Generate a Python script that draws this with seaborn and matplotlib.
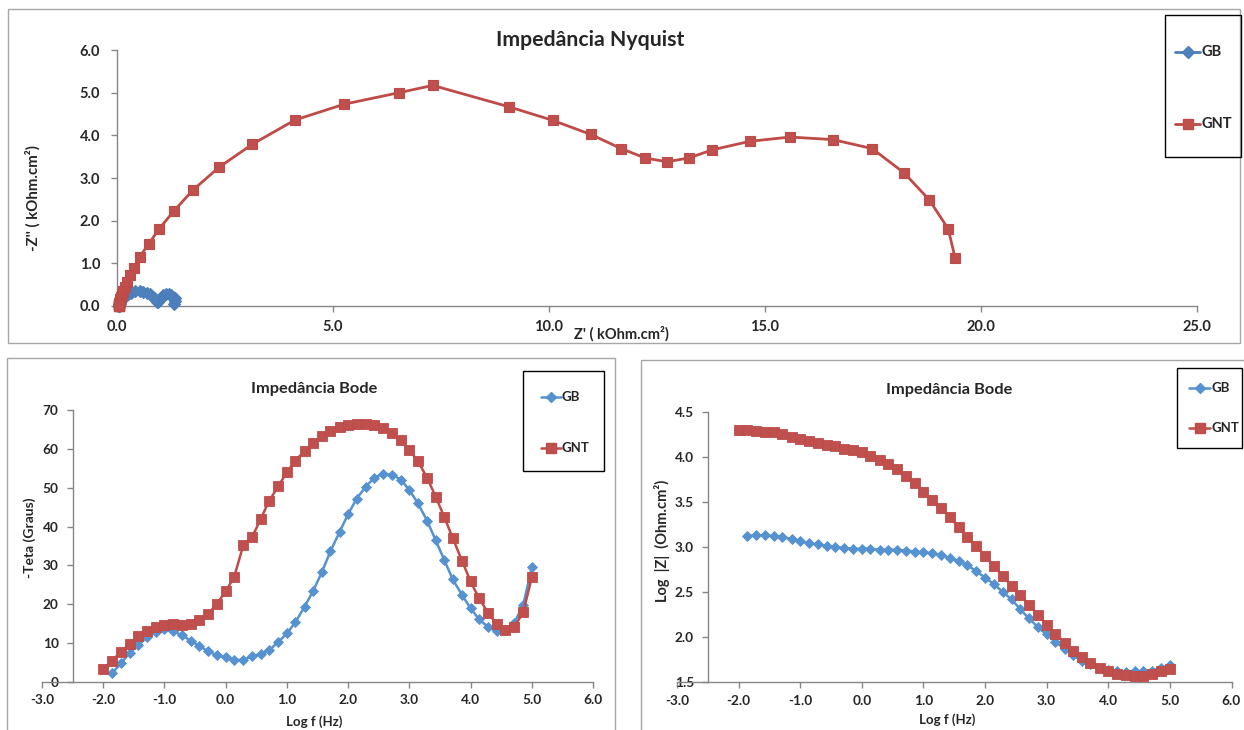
import matplotlib
matplotlib.use("Agg")
import matplotlib.pyplot as plt
import seaborn as sns
import pandas as pd
from matplotlib.lines import Line2D
from matplotlib.patches import Rectangle

sns.set_style("white")
plt.rcParams['font.family'] = ['Lato', 'DejaVu Sans']
plt.rcParams['axes.unicode_minus'] = False

# ---------------- data ----------------
series_names = ["GB", "GNT"]

# Nyquist (kOhm.cm2)
nyq_gnt_zr = [19.40, 19.24, 18.80, 18.22, 17.48, 16.57, 15.58, 14.65, 13.78, 13.24,
              12.73, 12.22, 11.67, 10.97, 10.09, 9.07, 7.31, 6.53, 5.26, 4.12,
              3.13, 2.36, 1.76, 1.31, 0.97, 0.73, 0.53, 0.40, 0.31, 0.24,
              0.19, 0.15, 0.12, 0.10, 0.08, 0.07, 0.06, 0.05, 0.05, 0.04,
              0.04, 0.04, 0.04, 0.04, 0.04, 0.04, 0.04, 0.04, 0.04, 0.04]
nyq_gnt_zi = [1.13, 1.81, 2.49, 3.12, 3.69, 3.90, 3.96, 3.86, 3.66, 3.47,
              3.38, 3.47, 3.69, 4.02, 4.35, 4.67, 5.17, 5.00, 4.73, 4.36,
              3.79, 3.25, 2.72, 2.22, 1.80, 1.45, 1.16, 0.90, 0.72, 0.56,
              0.44, 0.34, 0.27, 0.21, 0.16, 0.12, 0.09, 0.07, 0.05, 0.04,
              0.03, 0.02, 0.02, 0.01, 0.01, 0.01, 0.01, 0.01, 0.01, 0.02]
nyq_gb_zr = [1.32, 1.35, 1.34, 1.30, 1.26, 1.20, 1.14, 1.07, 1.05, 1.01,
             0.99, 0.97, 0.95, 0.95, 0.95, 0.93, 0.93, 0.93, 0.90, 0.88,
             0.85, 0.82, 0.77, 0.70, 0.61, 0.53, 0.42, 0.33, 0.26, 0.20,
             0.16, 0.12, 0.10, 0.08, 0.07, 0.06, 0.06, 0.05, 0.05, 0.05,
             0.04, 0.04, 0.04, 0.04, 0.04, 0.04, 0.04, 0.04, 0.04]
nyq_gb_zi = [0.05, 0.11, 0.18, 0.22, 0.26, 0.27, 0.28, 0.25, 0.22, 0.19,
             0.16, 0.13, 0.11, 0.11, 0.09, 0.09, 0.11, 0.12, 0.13, 0.16,
             0.19, 0.23, 0.27, 0.30, 0.33, 0.35, 0.34, 0.31, 0.29, 0.24,
             0.21, 0.16, 0.13, 0.10, 0.08, 0.06, 0.05, 0.04, 0.03, 0.02,
             0.02, 0.01, 0.01, 0.01, 0.01, 0.01, 0.01, 0.02, 0.02]

# Bode: log f (Hz)
logf_gnt = [-2.00, -1.86, -1.71, -1.57, -1.43, -1.29, -1.14, -1.00, -0.86, -0.71,
            -0.57, -0.43, -0.29, -0.14, 0.00, 0.14, 0.29, 0.43, 0.57, 0.71,
            0.86, 1.00, 1.14, 1.29, 1.43, 1.57, 1.71, 1.86, 2.00, 2.14,
            2.29, 2.43, 2.57, 2.71, 2.86, 3.00, 3.14, 3.29, 3.43, 3.57,
            3.71, 3.86, 4.00, 4.14, 4.29, 4.43, 4.57, 4.71, 4.86, 5.00]
logf_gb = [-1.86, -1.71, -1.57, -1.43, -1.29, -1.14, -1.00, -0.86, -0.71,
           -0.57, -0.43, -0.29, -0.14, 0.00, 0.14, 0.29, 0.43, 0.57, 0.71,
           0.86, 1.00, 1.14, 1.29, 1.43, 1.57, 1.71, 1.86, 2.00, 2.14,
           2.29, 2.43, 2.57, 2.71, 2.86, 3.00, 3.14, 3.29, 3.43, 3.57,
           3.71, 3.86, 4.00, 4.14, 4.29, 4.43, 4.57, 4.71, 4.86, 5.00]

theta_gnt = [3.3, 5.5, 7.7, 9.8, 11.8, 13.1, 14.1, 14.6, 14.8, 14.6,
             14.8, 16.0, 17.4, 20.2, 23.3, 27.1, 35.3, 37.2, 41.9, 46.6,
             50.4, 54.0, 57.0, 59.5, 61.4, 63.3, 64.6, 65.5, 66.1, 66.4,
             66.4, 66.1, 65.4, 64.2, 62.2, 59.7, 56.8, 52.6, 47.7, 42.5,
             37.0, 31.2, 25.9, 21.5, 17.7, 14.8, 13.4, 14.1, 17.9, 26.9]
theta_gb = [2.2, 4.8, 7.5, 9.4, 11.5, 12.9, 13.6, 13.1, 12.0, 10.6,
            9.3, 7.9, 6.9, 6.4, 5.7, 5.7, 6.6, 7.2, 8.2, 10.3,
            12.5, 15.4, 19.4, 23.5, 28.2, 33.6, 38.6, 43.2, 47.2, 50.3,
            52.6, 53.6, 53.4, 52.1, 49.4, 46.0, 41.5, 36.5, 31.4, 26.4,
            22.4, 19.0, 16.1, 14.1, 13.0, 13.4, 15.1, 19.8, 29.5]

logz_gnt = [4.30, 4.30, 4.29, 4.28, 4.27, 4.25, 4.22, 4.20, 4.17, 4.15,
            4.13, 4.12, 4.09, 4.07, 4.05, 4.01, 3.96, 3.92, 3.86, 3.79,
            3.71, 3.61, 3.52, 3.43, 3.33, 3.22, 3.11, 3.01, 2.90, 2.79,
            2.68, 2.57, 2.47, 2.36, 2.25, 2.14, 2.04, 1.94, 1.85, 1.78,
            1.71, 1.66, 1.62, 1.59, 1.58, 1.575, 1.575, 1.59, 1.63, 1.65]
logz_gb = [3.12, 3.13, 3.13, 3.12, 3.11, 3.09, 3.07, 3.04, 3.03, 3.01,
           3.00, 2.99, 2.98, 2.98, 2.98, 2.97, 2.97, 2.97, 2.96, 2.95,
           2.94, 2.93, 2.91, 2.88, 2.84, 2.80, 2.73, 2.66, 2.59, 2.50,
           2.42, 2.31, 2.21, 2.11, 2.03, 1.95, 1.87, 1.80, 1.74, 1.70,
           1.66, 1.64, 1.62, 1.615, 1.62, 1.62, 1.63, 1.66, 1.69]

# ---------------- styling ----------------
W, H = 1244, 730
C_GB_N, C_GB_NF = "#4A7EBB", "#4F81BD"
C_GB_B = "#5592CF"
C_GNT, C_GNTF = "#BE4B48", "#C0504D"
AX_C = "#868686"
BORDER_C = "#A6A6A6"


def fx(px):
    return px / W


def fy(py):
    return 1 - py / H


fig = plt.figure(figsize=(W / 100, H / 100), dpi=100)
fig.patch.set_facecolor("white")

# panel borders
for (x0, y0, x1, y1) in [(8, 9, 1240, 343), (7, 358, 615, 740), (641, 360, 1250, 740)]:
    fig.add_artist(Rectangle((fx(x0), fy(y1)), fx(x1) - fx(x0), fy(y0) - fy(y1),
                             transform=fig.transFigure, fill=False,
                             edgecolor=BORDER_C, linewidth=1.0))


def style_axis(ax, xt, yt, fs, xpad, ypad):
    sns.despine(ax=ax, top=True, right=True)
    for s in ("left", "bottom"):
        ax.spines[s].set_color(AX_C)
        ax.spines[s].set_linewidth(1.0)
    ax.set_xticks(xt)
    ax.set_yticks(yt)
    ax.tick_params(axis="both", which="major", direction="out", length=4,
                   width=1, color=AX_C, labelsize=fs, bottom=True, left=True)
    ax.tick_params(axis="x", pad=xpad)
    ax.tick_params(axis="y", pad=ypad)
    for lab in ax.get_xticklabels() + ax.get_yticklabels():
        lab.set_fontweight("bold")
    ax.grid(False)
    ax.set_facecolor("none")
    ax.set_xlabel("")
    ax.set_ylabel("")


# ---------------- Nyquist ----------------
axn = fig.add_axes([fx(117), fy(306), fx(1197) - fx(117), fy(50) - fy(306)])
df_gb_n = pd.DataFrame({"zr": nyq_gb_zr, "zi": nyq_gb_zi})
df_gnt_n = pd.DataFrame({"zr": nyq_gnt_zr, "zi": nyq_gnt_zi})
sns.lineplot(data=df_gb_n, x="zr", y="zi", sort=False, estimator=None, ax=axn,
             color=C_GB_N, linewidth=2.0, marker="D", markersize=6.5,
             markerfacecolor=C_GB_NF, markeredgecolor=C_GB_N, markeredgewidth=0.8,
             clip_on=False, zorder=3)
sns.lineplot(data=df_gnt_n, x="zr", y="zi", sort=False, estimator=None, ax=axn,
             color=C_GNT, linewidth=2.0, marker="s", markersize=7.5,
             markerfacecolor=C_GNTF, markeredgecolor=C_GNT, markeredgewidth=0.8,
             clip_on=False, zorder=4)
axn.set_xlim(0, 25)
axn.set_ylim(0, 6)
style_axis(axn, [0, 5, 10, 15, 20, 25], [0, 1, 2, 3, 4, 5, 6], 10.5, 6, 8)
axn.xaxis.set_major_formatter(matplotlib.ticker.FormatStrFormatter("%.1f"))
axn.yaxis.set_major_formatter(matplotlib.ticker.FormatStrFormatter("%.1f"))

fig.text(fx(590), fy(40), "Impedância Nyquist", ha="center", va="center",
         fontsize=15.3, fontweight="bold")
fig.text(fx(621), fy(334), "Z' ( kOhm.cm²)", ha="center", va="center",
         fontsize=10.5, fontweight="bold")
fig.text(fx(33), fy(198), "-Z'' ( kOhm.cm²)", ha="center", va="center",
         rotation=90, fontsize=10.8, fontweight="bold")

# ---------------- Bode phase ----------------
axp = fig.add_axes([fx(42), fy(682), fx(593) - fx(42), fy(410) - fy(682)])
df_gb_p = pd.DataFrame({"logf": logf_gb, "theta": theta_gb})
df_gnt_p = pd.DataFrame({"logf": logf_gnt, "theta": theta_gnt})
sns.lineplot(data=df_gb_p, x="logf", y="theta", sort=False, estimator=None, ax=axp,
             color=C_GB_B, linewidth=1.8, marker="D", markersize=5.5,
             markerfacecolor=C_GB_B, markeredgecolor=C_GB_B, markeredgewidth=0.6,
             clip_on=False, zorder=3)
sns.lineplot(data=df_gnt_p, x="logf", y="theta", sort=False, estimator=None, ax=axp,
             color=C_GNT, linewidth=1.8, marker="s", markersize=6.5,
             markerfacecolor=C_GNTF, markeredgecolor=C_GNT, markeredgewidth=0.6,
             clip_on=False, zorder=4)
axp.set_xlim(-3, 6)
axp.set_ylim(0, 70)
axp.spines["left"].set_position(("data", -2.5))
style_axis(axp, [-3, -2, -1, 0, 1, 2, 3, 4, 5, 6], [0, 10, 20, 30, 40, 50, 60, 70],
           9.8, 5, 6)
axp.xaxis.set_major_formatter(matplotlib.ticker.FormatStrFormatter("%.1f"))

fig.text(fx(314), fy(389), "Impedância Bode", ha="center", va="center",
         fontsize=11.8, fontweight="bold")
fig.text(fx(314), fy(722), "Log f (Hz)", ha="center", va="center",
         fontsize=9.5, fontweight="bold")
fig.text(fx(30), fy(538), "-Teta (Graus)", ha="center", va="center",
         rotation=90, fontsize=10, fontweight="bold")

# ---------------- Bode modulus ----------------
axz = fig.add_axes([fx(677), fy(682.3), fx(1231.5) - fx(677), fy(411.7) - fy(682.3)])
df_gb_z = pd.DataFrame({"logf": logf_gb, "logz": logz_gb})
df_gnt_z = pd.DataFrame({"logf": logf_gnt, "logz": logz_gnt})
sns.lineplot(data=df_gb_z, x="logf", y="logz", sort=False, estimator=None, ax=axz,
             color=C_GB_B, linewidth=1.8, marker="D", markersize=5.5,
             markerfacecolor=C_GB_B, markeredgecolor=C_GB_B, markeredgewidth=0.6,
             clip_on=False, zorder=3)
sns.lineplot(data=df_gnt_z, x="logf", y="logz", sort=False, estimator=None, ax=axz,
             color=C_GNT, linewidth=1.8, marker="s", markersize=6.5,
             markerfacecolor=C_GNTF, markeredgecolor=C_GNT, markeredgewidth=0.6,
             clip_on=False, zorder=4)
axz.set_xlim(-3, 6)
axz.set_ylim(1.5, 4.5)
axz.spines["left"].set_position(("data", -2.5))
style_axis(axz, [-3, -2, -1, 0, 1, 2, 3, 4, 5, 6], [1.5, 2.0, 2.5, 3.0, 3.5, 4.0, 4.5],
           9.8, 5, 6)
axz.xaxis.set_major_formatter(matplotlib.ticker.FormatStrFormatter("%.1f"))
axz.yaxis.set_major_formatter(matplotlib.ticker.FormatStrFormatter("%.1f"))

fig.text(fx(949), fy(390), "Impedância Bode", ha="center", va="center",
         fontsize=11.8, fontweight="bold")
fig.text(fx(947), fy(720), "Log f (Hz)", ha="center", va="center",
         fontsize=9.5, fontweight="bold")
fig.text(fx(662), fy(541), "Log  |Z|  (Ohm.cm²)", ha="center", va="center",
         rotation=90, fontsize=10.5, fontweight="bold")


# ---------------- legends (manual boxes) ----------------
def legend_box(box, entries, line_x0, line_x1, fs, styles):
    x0, y0, x1, y1 = box
    fig.add_artist(Rectangle((fx(x0), fy(y1)), fx(x1) - fx(x0), fy(y0) - fy(y1),
                             transform=fig.transFigure, fill=False,
                             edgecolor="black", linewidth=1.0))
    for (name, ypx), st in zip(entries, styles):
        xm = (line_x0 + line_x1) / 2
        fig.add_artist(Line2D([fx(line_x0), fx(xm), fx(line_x1)], [fy(ypx)] * 3,
                              transform=fig.transFigure, markevery=[1], **st))
        fig.text(fx(line_x1 + 1), fy(ypx), name, ha="left", va="center",
                 fontsize=fs, fontweight="bold")


st_gb_n = dict(color=C_GB_N, linewidth=2.0, marker="D", markersize=6.5,
               markerfacecolor=C_GB_NF, markeredgecolor=C_GB_N)
st_gnt_n = dict(color=C_GNT, linewidth=2.0, marker="s", markersize=7.5,
                markerfacecolor=C_GNTF, markeredgecolor=C_GNT)
st_gb_b = dict(color=C_GB_B, linewidth=1.8, marker="D", markersize=5.5,
               markerfacecolor=C_GB_B, markeredgecolor=C_GB_B)
st_gnt_b = dict(color=C_GNT, linewidth=1.8, marker="s", markersize=6.5,
                markerfacecolor=C_GNTF, markeredgecolor=C_GNT)

legend_box((1165, 15, 1241, 157), [(series_names[0], 52), (series_names[1], 124)],
           1175, 1200, 10.5, [st_gb_n, st_gnt_n])
legend_box((523, 371, 604, 471), [(series_names[0], 397), (series_names[1], 448)],
           541, 561, 9.5, [st_gb_b, st_gnt_b])
legend_box((1177, 368, 1242, 448), [(series_names[0], 388), (series_names[1], 428)],
           1189, 1210, 9.5, [st_gb_b, st_gnt_b])

fig.savefig("out.png", dpi=100, facecolor="white")
